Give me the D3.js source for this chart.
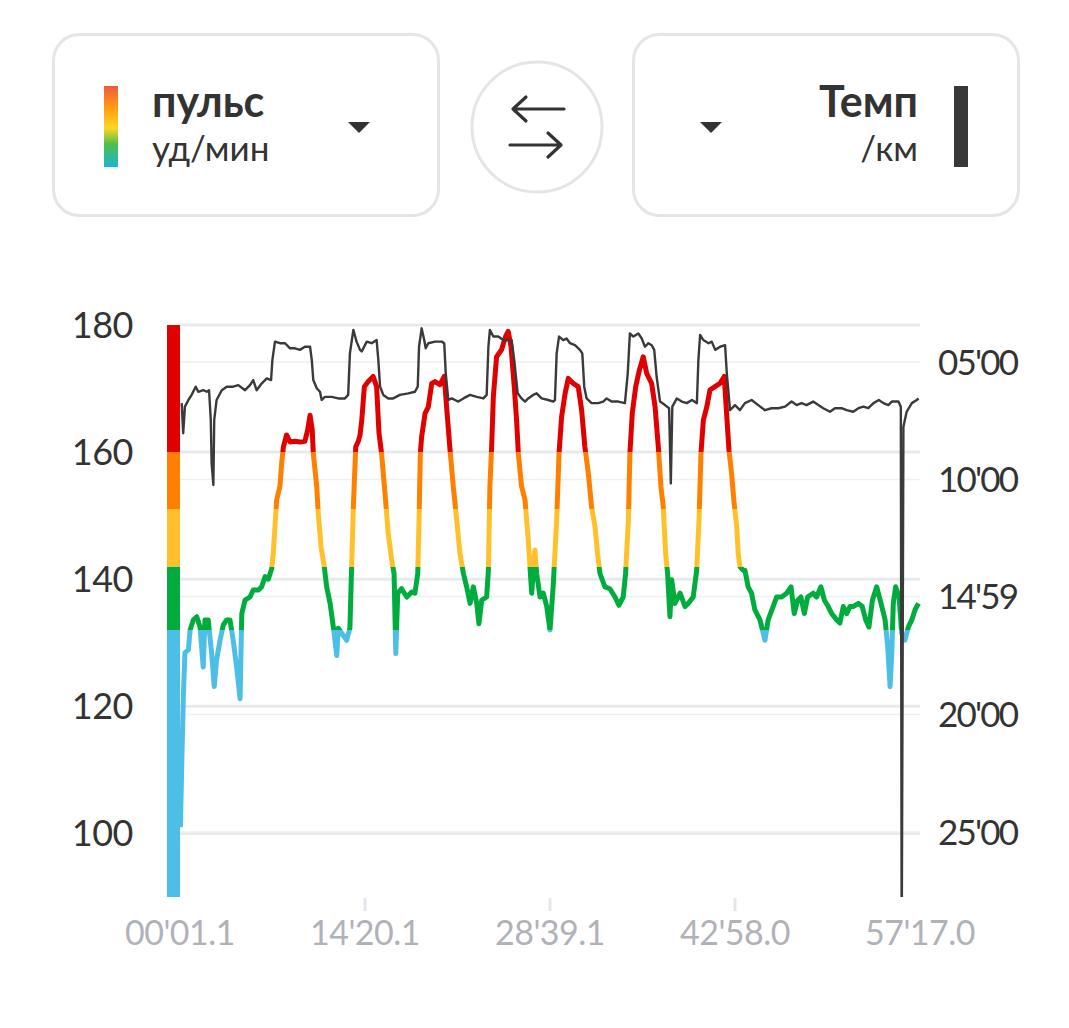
<!DOCTYPE html>
<html><head><meta charset="utf-8">
<script src="https://cdn.jsdelivr.net/npm/d3@7/dist/d3.min.js"></script>
<style>
html,body{margin:0;padding:0;background:#fff;}
svg{display:block;font-family:Lato,"Open Sans",sans-serif;}
</style></head>
<body>
<svg id="chart" width="1069" height="1028"></svg>
<script>
// ---- data ----
// time (s), heart rate (bpm)
const hrTime = [3,10,17,24,40,48,63,79,94,109,117,132,148,160,171,187,202,218,233,248,264,280,288,303,326,341,365,380,396,411,427,434,442,450,465,473,481,496,512,535,558,581,594,605,615,620,636,643,656,671,682,698,713,729,736,752,775,790,798,806,817,829,837,845,857,875,898,914,925,937,953,968,984,995,1003,1012,1030,1054,1077,1092,1105,1111,1117,1123,1139,1154,1170,1185,1208,1228,1239,1255,1270,1286,1301,1317,1332,1348,1363,1379,1389,1402,1425,1433,1440,1448,1456,1471,1494,1513,1525,1538,1553,1564,1572,1587,1603,1618,1626,1634,1649,1657,1673,1688,1704,1719,1734,1750,1761,1773,1789,1804,1827,1850,1866,1881,1897,1912,1928,1940,1951,1974,1997,2021,2039,2059,2070,2083,2090,2101,2117,2134,2152,2168,2191,2207,2222,2234,2245,2256,2265,2276,2284,2299,2323,2346,2361,2384,2400,2411,2420,2431,2447,2462,2485,2508,2528,2539,2550,2562,2574,2586,2593,2601,2616,2624,2639,2655,2670,2694,2717,2732,2755,2771,2794,2818,2838,2853,2869,2884,2900,2915,2941,2957,2977,2993,3011,3027,3050,3065,3081,3097,3112,3127,3151,3169,3185,3200,3216,3236,3256,3275,3287,3298,3306,3313,3324,3340,3352,3367,3383,3399,3414,3430];
const hrValues = [101,112,122,128.4,128.9,132,133.6,134.1,132.5,126.2,133.6,133.6,128.4,123.1,127.3,130.4,132.8,133.6,133.6,130.4,126.2,121.2,134.6,136.7,137.2,138.3,138.3,138.8,140.4,140,141.7,144,148.3,152.5,154.6,158.2,160.8,162.7,161.6,161.7,161.6,161.7,163.5,165.8,163.5,159.8,154.6,150.4,145.1,142,138.8,136.2,132.5,128,132.3,131.5,130.4,132.3,142,151.4,160.8,161.7,162.7,165,170.3,171.1,171.9,170.3,163,159.8,153.5,147.2,143,140.9,128.3,137.8,138.5,137.2,138,137.8,140.9,149.3,159.8,162.4,166.1,167.1,170.8,171.1,170.6,171.9,167.1,160.3,154.6,149.3,144,140.9,138.8,136.2,138.8,136.2,133,136.7,137.2,141.4,154.6,160.8,168.7,175,176.1,178.2,179,176.6,170.3,165,159.8,154.6,152.5,146.2,142,137.8,144.6,140.9,137.2,137.8,135.7,132,139,149.3,159.8,165.6,169.2,171.6,170.8,170.3,166.6,160.8,156.7,151.4,148.3,144,140.9,138.8,138.5,137.2,135.9,137.2,140.9,149.3,159.8,166.1,170.3,172.9,175,172.4,170.8,167.1,160.8,154.6,151.4,144,140.9,134.1,139.9,136.2,137.8,135.7,136.2,137.2,141.4,149.3,159.8,165,167.1,169.8,170.3,170.8,171.9,166.1,160.3,156.7,151.9,148.3,144,142,141.4,141.4,138.8,137.8,135.2,133.6,130.4,133.6,135.7,137.2,137.2,137.8,138.8,134.6,136.7,137.2,134.6,137.2,137.8,137.2,138.8,136.7,135.7,134.6,133.6,133.1,135.7,134.6,135.7,135.7,136.2,135.7,133.6,132.5,136.7,138.8,136.2,133.6,129.4,123.1,128.4,136.2,138.8,137.2,131.5,130.4,132.5,133.6,135.2,136.2];
// time (s), pace (s per km)
const paceTime = [9,16,24,40,55,74,86,109,125,136,144,148,156,160,171,195,218,248,272,303,326,341,357,380,404,424,430,442,465,489,512,535,558,581,605,613,620,636,651,659,674,705,736,767,782,790,806,821,837,845,868,891,914,922,930,945,968,991,1022,1061,1092,1105,1111,1123,1135,1142,1154,1185,1216,1228,1235,1247,1263,1278,1293,1317,1348,1379,1410,1425,1433,1440,1456,1479,1502,1525,1541,1553,1569,1587,1603,1618,1641,1657,1680,1711,1734,1742,1750,1761,1781,1796,1812,1835,1858,1869,1878,1889,1912,1943,1966,1982,2005,2036,2067,2080,2090,2106,2129,2145,2160,2176,2191,2203,2214,2230,2253,2272,2280,2287,2308,2331,2354,2378,2401,2408,2416,2431,2455,2470,2486,2509,2532,2540,2555,2578,2601,2624,2655,2686,2717,2748,2779,2810,2841,2864,2887,2910,2941,2965,2988,3019,3042,3073,3096,3127,3151,3174,3197,3221,3246,3267,3290,3306,3337,3348,3352,3360,3375,3399,3422,3430];
const paceValues = [405,482,414,397,384,363,376,372,376,372,448,559,614,448,397,372,363,363,359,372,359,346,372,355,342,346,295,248,252,252,265,265,269,261,261,295,346,367,376,397,389,389,393,393,384,278,218,248,269,273,248,252,244,295,363,384,393,393,384,380,376,363,261,214,244,265,252,248,248,252,329,397,393,397,401,393,384,389,393,384,261,218,235,235,244,244,244,295,380,393,401,393,384,380,393,397,401,397,278,235,244,240,252,257,269,278,363,393,405,405,401,393,401,401,405,329,227,235,227,240,261,252,257,269,337,401,410,418,610,414,393,401,405,397,405,295,231,244,252,248,269,261,257,329,423,410,423,405,397,410,423,418,418,414,401,410,405,410,401,410,418,427,418,418,423,427,418,414,418,405,397,405,410,401,401,414,1800,465,427,405,397,393];

// axes
const hrDomain = [90, 180];
const hrTicks = [100, 120, 140, 160, 180];
const paceDomain = [205.5, 1666];
const paceTicks = [300, 600, 899, 1200, 1500];
const paceTickLabels = ["05'00", "10'00", "14'59", "20'00", "25'00"];
const timeDomain = [1.1, 3437.0];
const timeTicks = [1.1, 860.1, 1719.1, 2578.0, 3437.0];
const timeTickLabels = ["00'01.1", "14'20.1", "28'39.1", "42'58.0", "57'17.0"];
// heart-rate zones
const zoneBounds = [90, 132, 142, 151, 160, 180];
const zoneColors = ["#4dbfe6", "#00ac3e", "#ffc12b", "#ff8000", "#e00000"];

// ---- layout ----
const svg = d3.select("#chart");
const L = 180, R = 920, T = 325, B = 897;
const x = d3.scaleLinear().domain(timeDomain).range([L, R]);
const yHR = d3.scaleLinear().domain(hrDomain).range([B, T]);
const yP = d3.scaleLinear().domain(paceDomain).range([T, B]);

const TXT = "#333333";

// ---- header ----
const hdr = svg.append("g");
hdr.append("rect").attr("x", 53.5).attr("y", 34.5).attr("width", 385).attr("height", 181)
  .attr("rx", 26).attr("fill", "#fff").attr("stroke", "#e5e5e5").attr("stroke-width", 3);
hdr.append("rect").attr("x", 633.5).attr("y", 34.5).attr("width", 385).attr("height", 181)
  .attr("rx", 26).attr("fill", "#fff").attr("stroke", "#e5e5e5").attr("stroke-width", 3);
hdr.append("circle").attr("cx", 537).attr("cy", 127).attr("r", 65)
  .attr("fill", "#fff").attr("stroke", "#e5e5e5").attr("stroke-width", 3);

const defs = svg.append("defs");
const lg = defs.append("linearGradient").attr("id", "legendGrad")
  .attr("x1", 0).attr("y1", 0).attr("x2", 0).attr("y2", 1);
[["0%", "#f25a3c"], ["28%", "#ff9e12"], ["52%", "#ffd523"], ["72%", "#4cc04a"], ["100%", "#1fb3d3"]]
  .forEach(s => lg.append("stop").attr("offset", s[0]).attr("stop-color", s[1]));
hdr.append("rect").attr("x", 104).attr("y", 86).attr("width", 14).attr("height", 81).attr("fill", "url(#legendGrad)");
hdr.append("text").attr("x", 152).attr("y", 117).attr("font-size", 43).attr("font-weight", 700)
  .attr("fill", TXT).text("пульс");
hdr.append("text").attr("x", 152).attr("y", 161).attr("font-size", 35)
  .attr("fill", TXT).text("уд/мин");
hdr.append("path").attr("d", "M348,122 L370,122 L359,133 Z").attr("fill", TXT);

hdr.append("path").attr("d", "M700,122 L722,122 L711,133 Z").attr("fill", TXT);
hdr.append("text").attr("x", 918).attr("y", 117).attr("font-size", 43).attr("font-weight", 700)
  .attr("text-anchor", "end").attr("fill", TXT).text("Темп");
hdr.append("text").attr("x", 918).attr("y", 161).attr("font-size", 35)
  .attr("text-anchor", "end").attr("fill", TXT).text("/км");
hdr.append("rect").attr("x", 954).attr("y", 86).attr("width", 14).attr("height", 81).attr("fill", "#383838");

// swap arrows
const arr = hdr.append("g").attr("fill", "none").attr("stroke", TXT).attr("stroke-width", 3.2)
  .attr("stroke-linecap", "round").attr("stroke-linejoin", "round");
arr.append("path").attr("d", "M513,109 L564,109 M513,109 L526,97 M513,109 L526,121");
arr.append("path").attr("d", "M510,145 L561,145 M561,145 L548,133 M561,145 L548,157");

// ---- grid ----
const grid = svg.append("g");
grid.selectAll("line.hr").data(hrTicks).join("line")
  .attr("x1", L).attr("x2", R).attr("y1", d => yHR(d)).attr("y2", d => yHR(d))
  .attr("stroke", "#e7eaed").attr("stroke-width", 3);
grid.selectAll("line.p").data(paceTicks).join("line")
  .attr("x1", L).attr("x2", R).attr("y1", d => yP(d)).attr("y2", d => yP(d))
  .attr("stroke", "#edf0f2").attr("stroke-width", 1.5);

// left axis labels
svg.append("g").selectAll("text").data(hrTicks).join("text")
  .attr("x", 133).attr("y", d => yHR(d)).attr("dy", "0.36em")
  .attr("text-anchor", "end").attr("font-size", 36).attr("letter-spacing", -0.5)
  .attr("fill", TXT).text(d => d);
// right axis labels
svg.append("g").selectAll("text").data(paceTicks).join("text")
  .attr("x", 938).attr("y", d => yP(d)).attr("dy", "0.36em")
  .attr("font-size", 35).attr("letter-spacing", -1.8).attr("fill", TXT).text((d, i) => paceTickLabels[i]);
// x axis
svg.append("g").selectAll("line").data(timeTicks.slice(1, -1)).join("line")
  .attr("x1", d => x(d)).attr("x2", d => x(d)).attr("y1", B + 1).attr("y2", B + 14)
  .attr("stroke", "#e3e7ec").attr("stroke-width", 3);
svg.append("g").selectAll("text").data(timeTicks).join("text")
  .attr("x", d => x(d)).attr("y", 945).attr("text-anchor", "middle")
  .attr("font-size", 34).attr("letter-spacing", -0.5).attr("fill", "#b0b2b8").text((d, i) => timeTickLabels[i]);

// zone bar
const zones = zoneColors.map((c, i) => ({lo: zoneBounds[i], hi: zoneBounds[i + 1], c}));
svg.append("g").selectAll("rect").data(zones).join("rect")
  .attr("x", 167).attr("width", 13)
  .attr("y", d => yHR(d.hi)).attr("height", d => yHR(d.lo) - yHR(d.hi)).attr("fill", d => d.c);

// HR gradient by zone
const zg = defs.append("linearGradient").attr("id", "zoneGrad").attr("gradientUnits", "userSpaceOnUse")
  .attr("x1", 0).attr("x2", 0).attr("y1", yHR(hrDomain[0])).attr("y2", yHR(hrDomain[1]));
zones.forEach(z => {
  const o1 = (z.lo - hrDomain[0]) / (hrDomain[1] - hrDomain[0]);
  const o2 = (z.hi - hrDomain[0]) / (hrDomain[1] - hrDomain[0]);
  zg.append("stop").attr("offset", o1).attr("stop-color", z.c);
  zg.append("stop").attr("offset", o2).attr("stop-color", z.c);
});

defs.append("clipPath").attr("id", "plotClip").append("rect")
  .attr("x", L - 2).attr("y", T - 10).attr("width", R - L + 4).attr("height", B - T + 10);

const hrData = hrTime.map((t, i) => [t, hrValues[i]]);
const paceData = paceTime.map((t, i) => [t, paceValues[i]]);

svg.append("path").datum(hrData)
  .attr("clip-path", "url(#plotClip)")
  .attr("d", d3.line().x(d => x(d[0])).y(d => yHR(d[1])))
  .attr("fill", "none").attr("stroke", "url(#zoneGrad)").attr("stroke-width", 5)
  .attr("stroke-linejoin", "round");

svg.append("path").datum(paceData)
  .attr("clip-path", "url(#plotClip)")
  .attr("d", d3.line().x(d => x(d[0])).y(d => yP(d[1])))
  .attr("fill", "none").attr("stroke", "#3a3a3a").attr("stroke-width", 2.4)
  .attr("stroke-linejoin", "round");
</script>
</body></html>
